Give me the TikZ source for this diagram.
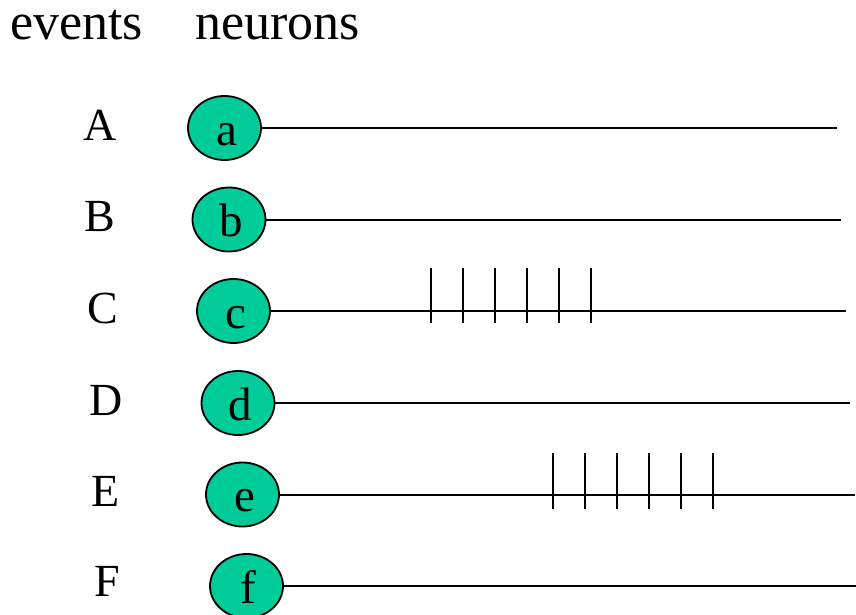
\documentclass[tikz,border=0pt]{standalone}
\usepackage{fontspec}
\setmainfont{Liberation Serif}
\usetikzlibrary{shapes.geometric}
\definecolor{neurongreen}{RGB}{0,204,153}
\begin{document}
\begin{tikzpicture}[x=1pt,y=-1pt,
  neuron/.style={ellipse,draw=black,line width=1.8pt,fill=neurongreen,minimum width=73pt,minimum height=64pt,inner sep=0pt},
  letter/.style={anchor=base,inner sep=0pt,font=\fontsize{47}{47}\selectfont},
  evlabel/.style={anchor=base,inner sep=0pt,font=\fontsize{46}{46}\selectfont},
  title/.style={anchor=base west,inner sep=0pt,text height=30pt,font=\fontsize{52}{52}\selectfont},
  axon/.style={line width=2pt},
  spike/.style={line width=2pt}]
\useasboundingbox (0,0) rectangle (856,615);
% titles
\node[title] (tev) at (10,40) {events};
\node[title] (tne) at (195,40) {neurons};
% event labels
\node[evlabel] (A) at (100,140) {A};
\node[evlabel] (B) at (100,231) {B};
\node[evlabel] (C) at (103,323) {C};
\node[evlabel] (D) at (106,415) {D};
\node[evlabel] (E) at (106,506) {E};
\node[evlabel] (F) at (107,596) {F};
% neurons
\node[neuron] (a) at (224.5,128) {};
\node[neuron] (b) at (229,219.5) {};
\node[neuron] (c) at (233.5,311) {};
\node[neuron] (d) at (238,403) {};
\node[neuron] (e) at (242.5,494.5) {};
\node[neuron] (f) at (246.5,586) {};
\foreach \n in {a,b,c,d,e,f}{
  \node[letter] (l\n) at ([xshift=2pt,yshift=-17pt]\n.center) {\n};
}
% axon ends
\coordinate (ea) at (836.5,128);
\coordinate (eb) at (840.5,219.5);
\coordinate (ec) at (845.5,311);
\coordinate (ed) at (850,403);
\coordinate (ee) at (855,494.5);
\coordinate (ef) at (856,586);
\foreach \n in {a,b,c,d,e,f}{
  \draw[axon] (\n) -- (e\n);
}
% spikes
\foreach \k in {0,...,5}{
  \draw[spike] (430.7+32*\k,268) -- (430.7+32*\k,323);
  \draw[spike] (552.5+32*\k,453) -- (552.5+32*\k,509);
}
\end{tikzpicture}
\end{document}
